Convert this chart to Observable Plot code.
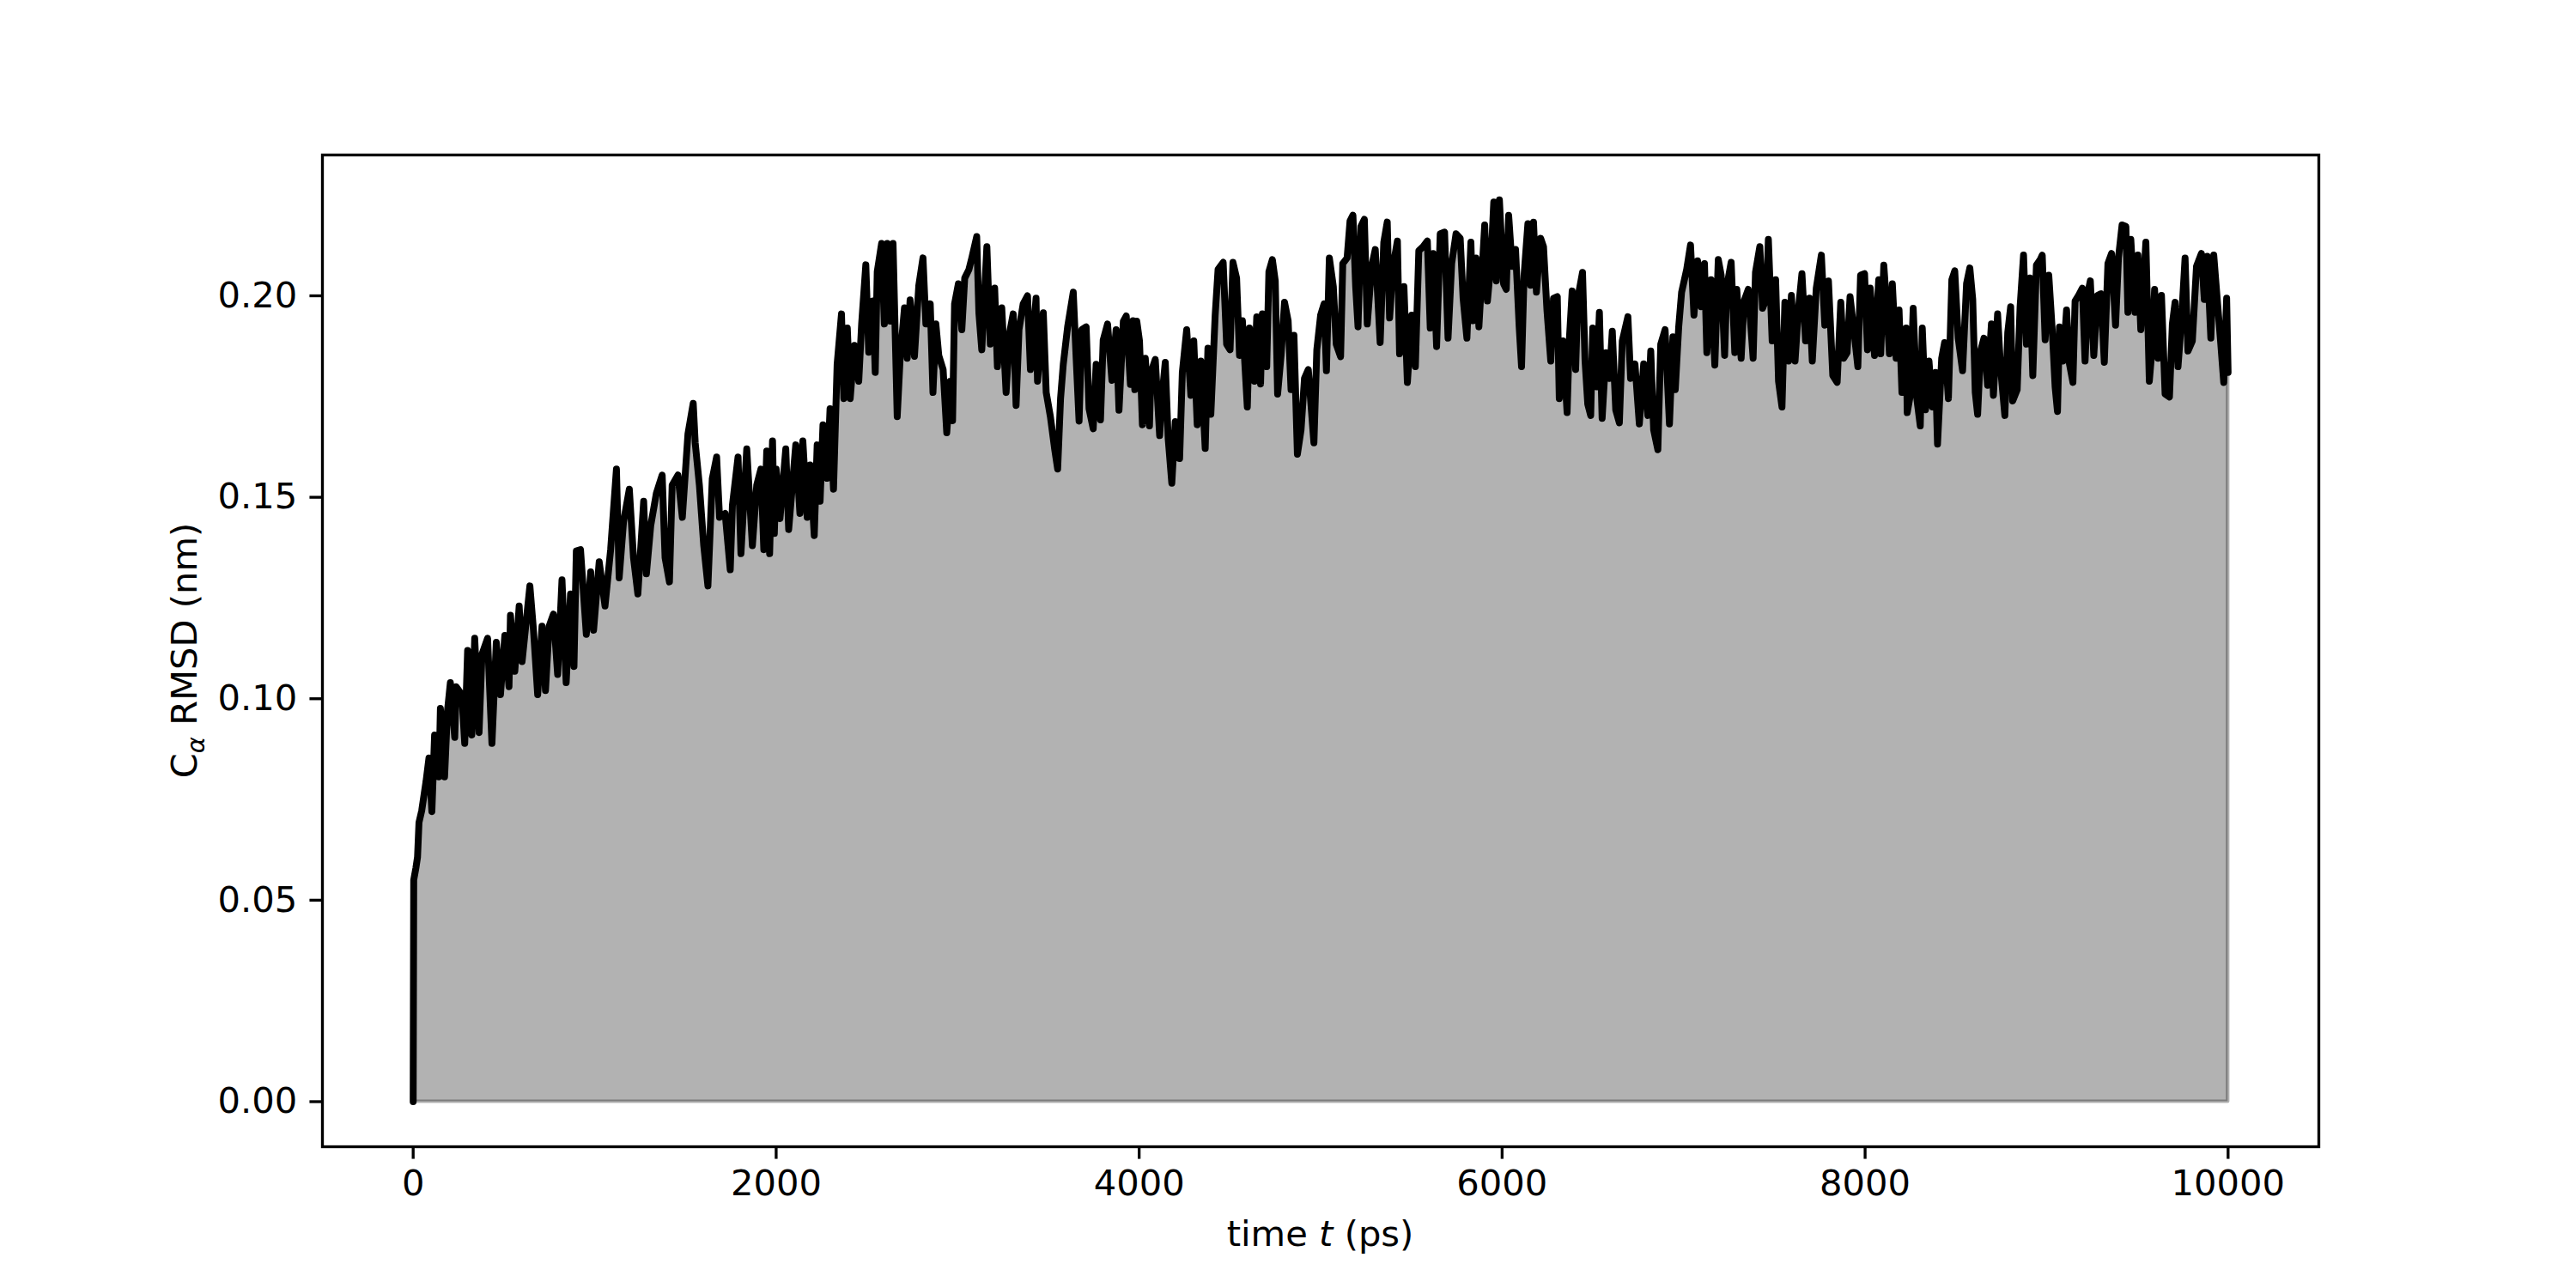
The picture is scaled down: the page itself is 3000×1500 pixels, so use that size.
<!DOCTYPE html>
<html>
<head>
<meta charset="utf-8">
<script src="https://cdn.jsdelivr.net/npm/d3@7"></script>
<script src="https://cdn.jsdelivr.net/npm/@observablehq/plot@0.6"></script>
<style>
  html, body { margin: 0; padding: 0; background: white; }
</style>
</head>
<body>
<div id="chart"></div>
<script>
// time (ps) and C-alpha RMSD (nm)
const times = [
  0, 3, 15, 24, 32, 47, 71, 87, 103, 118, 142, 150, 173, 189, 205, 229, 237, 268, 284, 300,
  323, 339, 363, 379, 410, 434, 458, 481, 505, 528, 536, 560, 584, 600, 643, 663, 686, 710, 729, 749,
  773, 796, 820, 843, 867, 886, 899, 922, 954, 978, 994, 1025, 1057, 1088, 1120, 1135, 1159, 1191, 1214, 1238,
  1270, 1285, 1309, 1340, 1372, 1388, 1412, 1427, 1459, 1483, 1514, 1543, 1554, 1577, 1601, 1624, 1648, 1672, 1688, 1719,
  1747, 1759, 1790, 1806, 1838, 1869, 1893, 1916, 1932, 1948, 1964, 1980, 1990, 2000,
  2021, 2053, 2069, 2108, 2131, 2147, 2171, 2187, 2210, 2226, 2242, 2258, 2281, 2297, 2316, 2336, 2360, 2373, 2392, 2408,
  2431, 2455, 2471, 2494, 2510, 2533, 2546, 2557, 2581, 2596, 2612, 2628, 2644, 2667, 2683, 2707, 2722, 2738, 2762, 2786,
  2809, 2825, 2849, 2864, 2880, 2896, 2920, 2940, 2959, 2972, 2983, 3004, 3023, 3039, 3062, 3078, 3105, 3117, 3133, 3161,
  3180, 3204, 3219, 3243, 3267, 3287, 3306, 3322, 3338, 3361, 3385, 3401, 3432, 3440, 3472, 3488, 3511, 3535, 3551, 3567,
  3582, 3606, 3637, 3653, 3669, 3684, 3708, 3724, 3747, 3763, 3787, 3802, 3826, 3850, 3873, 3889, 3913, 3929, 3952, 3966,
  3976, 3987, 4002, 4018, 4034, 4057, 4065, 4089, 4113, 4128, 4144, 4160, 4180, 4199, 4223, 4238, 4262, 4285, 4301, 4320,
  4340, 4364, 4379, 4395, 4419, 4435, 4463, 4482, 4501, 4517, 4537, 4553, 4569, 4596, 4608, 4635, 4648, 4669, 4679, 4703,
  4715, 4734, 4750, 4763, 4782, 4801, 4821, 4837, 4853, 4872, 4892, 4911, 4932, 4963, 4979, 5000, 5019, 5032, 5048, 5070,
  5086, 5110, 5122, 5146, 5162, 5178, 5193, 5206, 5222, 5241, 5257, 5281, 5301, 5328, 5348, 5367, 5380, 5399, 5423, 5435,
  5459, 5478, 5502, 5522, 5541, 5565, 5588, 5604, 5620, 5639, 5659, 5683, 5702, 5722, 5746, 5769, 5785, 5806, 5828, 5840,
  5856, 5872, 5904, 5919, 5938, 5954, 5968, 5985, 6008, 6023, 6036, 6055, 6074, 6094, 6107, 6121, 6142, 6157, 6173, 6189,
  6212, 6228, 6247, 6268, 6283, 6304, 6315, 6335, 6358, 6370, 6386, 6405, 6417, 6443, 6457, 6472, 6488, 6499, 6520, 6536,
  6551, 6572, 6591, 6607, 6626, 6646, 6662, 6693, 6708, 6732, 6756, 6780, 6803, 6819, 6835, 6858, 6874, 6898, 6922, 6941,
  6954, 6973, 6989, 7017, 7038, 7057, 7077, 7096, 7115, 7128, 7151, 7172, 7191, 7207, 7226, 7238, 7262, 7282, 7293, 7317,
  7333, 7356, 7383, 7396, 7420, 7435, 7456, 7467, 7488, 7507, 7523, 7542, 7558, 7578, 7594, 7614, 7633, 7652, 7672, 7693,
  7709, 7731, 7759, 7778, 7798, 7822, 7846, 7866, 7882, 7901, 7917, 7936, 7960, 7975, 7997, 8013, 8028, 8052, 8075, 8086,
  8103, 8119, 8134, 8150, 8171, 8187, 8203, 8226, 8232, 8249, 8265, 8285, 8304, 8315, 8333, 8352, 8371, 8388, 8399, 8422,
  8438, 8459, 8478, 8494, 8513, 8537, 8559, 8577, 8593, 8607, 8620, 8636, 8655, 8675, 8696, 8707, 8730, 8746, 8770, 8786,
  8802, 8813, 8838, 8854, 8873, 8889, 8908, 8924, 8944, 8965, 8976, 8992, 9012, 9031, 9047, 9060, 9071, 9091, 9110, 9126,
  9145, 9157, 9176, 9197, 9212, 9228, 9241, 9260, 9280, 9299, 9318, 9338, 9358, 9380, 9396, 9416, 9437, 9448, 9464, 9487,
  9503, 9519, 9547, 9566, 9582, 9595, 9614, 9633, 9653, 9677, 9693, 9708, 9724, 9743, 9763, 9779, 9803, 9826, 9853, 9869,
  9885, 9905, 9921, 9941, 9960, 9976, 9992, 10000
];
const rmsd = [
  0.0000, 0.0550, 0.0580, 0.0607, 0.0693, 0.0722, 0.0795, 0.0853, 0.0720, 0.0910, 0.0806, 0.0976, 0.0806, 0.0970, 0.1040, 0.0904, 0.1030, 0.1010, 0.0889, 0.1120,
  0.0910, 0.1150, 0.0916, 0.1110, 0.1150, 0.0889, 0.1140, 0.1010, 0.1157, 0.1030, 0.1207, 0.1068, 0.1230, 0.1092, 0.1280, 0.1170, 0.1010, 0.1180, 0.1020, 0.1180,
  0.1210, 0.1060, 0.1295, 0.1040, 0.1260, 0.1080, 0.1367, 0.1370, 0.1160, 0.1315, 0.1170, 0.1340, 0.1230, 0.1370, 0.1570, 0.1300, 0.1439, 0.1520, 0.1350, 0.1260,
  0.1490, 0.1310, 0.1430, 0.1510, 0.1555, 0.1350, 0.1290, 0.1530, 0.1555, 0.1450, 0.1657, 0.1733, 0.1635, 0.1530, 0.1380, 0.1280, 0.1546, 0.1600, 0.1450, 0.1460,
  0.1320, 0.1480, 0.1600, 0.1360, 0.1620, 0.1380, 0.1530, 0.1570, 0.1370, 0.1615, 0.1360, 0.1640, 0.1410, 0.1570,
  0.1447, 0.1620, 0.1420, 0.1630, 0.1460, 0.1640, 0.1450, 0.1580, 0.1405, 0.1630, 0.1490, 0.1680, 0.1547, 0.1720, 0.1520, 0.1830, 0.1955, 0.1745, 0.1920, 0.1745,
  0.1877, 0.1788, 0.1930, 0.2077, 0.1860, 0.1987, 0.1810, 0.2060, 0.2130, 0.1930, 0.2130, 0.1937, 0.2130, 0.1700, 0.1845, 0.1970, 0.1845, 0.1990, 0.1850, 0.2026,
  0.2094, 0.1930, 0.1980, 0.1760, 0.1930, 0.1852, 0.1817, 0.1660, 0.1788, 0.1690, 0.1980, 0.2030, 0.1916, 0.2044, 0.2065, 0.2094, 0.2147, 0.1958, 0.1866, 0.2122,
  0.1880, 0.2019, 0.1824, 0.1970, 0.1760, 0.1910, 0.1955, 0.1728, 0.1916, 0.1980, 0.2000, 0.1817, 0.1994, 0.1788, 0.1958, 0.1760, 0.1700, 0.1618, 0.1570, 0.1745,
  0.1830, 0.1923, 0.2009, 0.1845, 0.1689, 0.1916, 0.1923, 0.1720, 0.1670, 0.1830, 0.1692, 0.1890, 0.1930, 0.1790, 0.1916, 0.1716, 0.1937, 0.1950, 0.1780, 0.1938,
  0.1767, 0.1937, 0.1888, 0.1680, 0.1845, 0.1677, 0.1810, 0.1842, 0.1653, 0.1760, 0.1835, 0.1646, 0.1535, 0.1688, 0.1596, 0.1810, 0.1916, 0.1753, 0.1888, 0.1680,
  0.1838, 0.1621, 0.1870, 0.1706, 0.1952, 0.2066, 0.2083, 0.1880, 0.1866, 0.2083, 0.2044, 0.1852, 0.1938, 0.1724, 0.1920, 0.1788, 0.1948, 0.1781, 0.1955, 0.1824,
  0.2060, 0.2090, 0.2037, 0.1756, 0.1852, 0.1984, 0.1938, 0.1767, 0.1902, 0.1607, 0.1667, 0.1795, 0.1817, 0.1635, 0.1866, 0.1952, 0.1980, 0.1814, 0.2094, 0.2023,
  0.1880, 0.1849, 0.2080, 0.2094, 0.2186, 0.2200, 0.2023, 0.1923, 0.2172, 0.2190, 0.1930, 0.2073, 0.2115, 0.1884, 0.2133, 0.2183, 0.1945, 0.2073, 0.2136, 0.1856,
  0.2023, 0.1785, 0.1952, 0.1824, 0.2112, 0.2122, 0.2136, 0.1920, 0.2105, 0.1874, 0.2154, 0.2158, 0.1895, 0.2080, 0.2154, 0.2143, 0.1994, 0.1895, 0.2133, 0.1938,
  0.2094, 0.1923, 0.2176, 0.1987, 0.2080, 0.2233, 0.2037, 0.2238, 0.2030, 0.2016, 0.2200, 0.2073, 0.2115, 0.1923, 0.1824, 0.2051, 0.2179, 0.2026, 0.2183, 0.2009,
  0.2143, 0.2122, 0.1965, 0.1838, 0.1994, 0.1998, 0.1745, 0.1888, 0.1710, 0.1888, 0.2012, 0.1817, 0.1994, 0.2058, 0.1838, 0.1731, 0.1703, 0.1920, 0.1774, 0.1959,
  0.1696, 0.1859, 0.1795, 0.1912, 0.1717, 0.1685, 0.1888, 0.1948, 0.1795, 0.1831, 0.1682, 0.1831, 0.1703, 0.1863, 0.1667, 0.1618, 0.1880, 0.1916, 0.1682, 0.1898,
  0.1767, 0.1923, 0.2009, 0.2066, 0.2126, 0.1952, 0.2087, 0.1973, 0.2080, 0.1859, 0.2040, 0.1828, 0.2090, 0.2051, 0.1852, 0.2023, 0.2083, 0.1859, 0.2016, 0.1845,
  0.1987, 0.2016, 0.1845, 0.2058, 0.2122, 0.1969, 0.1994, 0.2140, 0.1888, 0.2040, 0.1788, 0.1724, 0.1984, 0.1838, 0.2001, 0.1838, 0.1969, 0.2055, 0.1888, 0.1994,
  0.1838, 0.2019, 0.2101, 0.1927, 0.2037, 0.1802, 0.1785, 0.1984, 0.1845, 0.1859, 0.1998, 0.1923, 0.1824, 0.2051, 0.2055, 0.1866, 0.2019, 0.1852, 0.2040, 0.1856,
  0.2076, 0.1973, 0.1856, 0.2030, 0.1845, 0.1965, 0.1760, 0.1920, 0.1710, 0.1753, 0.1969, 0.1745, 0.1677, 0.1920, 0.1717, 0.1838, 0.1724, 0.1810, 0.1632, 0.1845,
  0.1884, 0.1745, 0.2040, 0.2062, 0.1895, 0.1814, 0.2030, 0.2069, 0.1991, 0.1760, 0.1706, 0.1863, 0.1895, 0.1778, 0.1930, 0.1753, 0.1955, 0.1824, 0.1703, 0.1909,
  0.1973, 0.1739, 0.1767, 0.1973, 0.2101, 0.1880, 0.2044, 0.1802, 0.2076, 0.2090, 0.2101, 0.1891, 0.2051, 0.1916, 0.1774, 0.1713, 0.1923, 0.1838, 0.1965, 0.1831,
  0.1785, 0.1987, 0.2001, 0.2019, 0.1838, 0.2009, 0.2037, 0.1852, 0.2001, 0.2005, 0.1835, 0.2080, 0.2105, 0.1927, 0.2094, 0.2176, 0.2172, 0.1959, 0.2140, 0.1959,
  0.2101, 0.1916, 0.2133, 0.1788, 0.1874, 0.2016, 0.1845, 0.2001, 0.1756, 0.1749, 0.1930, 0.1984, 0.1824, 0.1938, 0.2094, 0.1863, 0.1888, 0.2073, 0.2105, 0.1991,
  0.2098, 0.1895, 0.2101, 0.1987, 0.1880, 0.1785, 0.1994, 0.1810
];
const xTicks = [0, 2000, 4000, 6000, 8000, 10000];
const yTicks = [0, 0.05, 0.10, 0.15, 0.20];
const xLabel = ["time ", "t", " (ps)"];
const yLabel = ["C", "α", " RMSD (nm)"];

const data = times.map((t, i) => ({t, v: rmsd[i]}));

const FS = 41.67;
const chart = Plot.plot({
  width: 3000,
  height: 1500,
  marginLeft: 375,
  marginRight: 300,
  marginTop: 180,
  marginBottom: 165,
  x: {domain: [-500, 10500]},
  y: {domain: [-0.011188, 0.23495]},
  style: {fontFamily: "DejaVu Sans", fontSize: FS + "px", color: "black", background: "white"},
  marks: [
    Plot.areaY(data, {x: "t", y: "v", fill: "black", fillOpacity: 0.3, stroke: "black", strokeOpacity: 0.3, strokeWidth: 4.17}),
    Plot.line(data, {x: "t", y: "v", stroke: "black", strokeWidth: 8, strokeLinejoin: "round", strokeLinecap: "round"}),
    Plot.frame({stroke: "black", strokeWidth: 3.33}),
    Plot.axisX({ticks: xTicks, tickFormat: d => String(d), tickSize: 14.58, tickPadding: 12, strokeWidth: 3.33, label: null, fontSize: FS}),
    Plot.axisY({ticks: yTicks, tickFormat: d3.format(".2f"), tickSize: 14.58, tickPadding: 14.58, strokeWidth: 3.33, label: null, fontSize: FS})
  ]
});

const svg = d3.select(chart);
const xl = svg.append("text")
  .attr("x", 1537.5).attr("y", 1451)
  .attr("text-anchor", "middle")
  .attr("font-family", "DejaVu Sans").attr("font-size", FS).attr("fill", "black");
xl.append("tspan").text(xLabel[0]);
xl.append("tspan").attr("font-style", "italic").text(xLabel[1]);
xl.append("tspan").text(xLabel[2]);

const yl = svg.append("text")
  .attr("transform", "translate(229,757.5) rotate(-90)")
  .attr("text-anchor", "middle")
  .attr("font-family", "DejaVu Sans").attr("font-size", FS).attr("fill", "black");
yl.append("tspan").text(yLabel[0]);
yl.append("tspan").attr("font-size", FS * 0.7).attr("font-style", "italic").attr("dy", 0.22 * FS).text(yLabel[1]);
yl.append("tspan").attr("dy", -0.22 * FS).text(yLabel[2]);

document.getElementById("chart").appendChild(chart);
</script>
</body>
</html>
